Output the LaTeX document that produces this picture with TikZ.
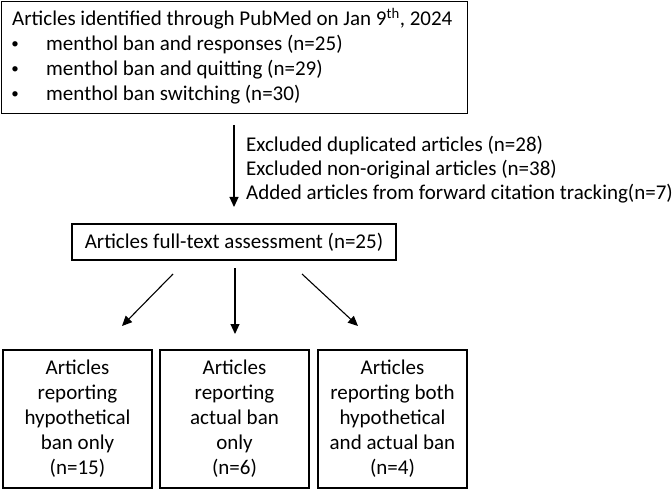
\documentclass[tikz,border=0pt]{standalone}
\usepackage{fontspec}
\setmainfont{Carlito}
\usetikzlibrary{arrows.meta}
\begin{document}
\begin{tikzpicture}[x=1pt,y=-1pt,
  every node/.style={inner sep=0pt, font=\fontsize{21}{25}\selectfont},
  box/.style={draw, line width=1.2pt},
  txt/.style={anchor=base west},
  bul/.style={anchor=base, font=\fontsize{15}{25}\selectfont},
  arr/.style={line width=1.1pt, -{Triangle[length=10pt,width=9pt]}}]
\useasboundingbox (0,0) rectangle (672,489);
% top box
\node[box, anchor=north west, minimum width=466pt, minimum height=112pt] (top) at (1,1) {};
\node[txt] (t1) at (12,26) {Articles identified through PubMed on Jan 9\textsuperscript{th}, 2024};
\node[bul] (b1) at (15,49) {•};
\node[txt] (l1) at (46,51) {menthol ban and responses (n=25)};
\node[bul] (b2) at (15,74) {•};
\node[txt] (l2) at (46,76) {menthol ban and quitting (n=29)};
\node[bul] (b3) at (15,99) {•};
\node[txt] (l3) at (46,101) {menthol ban switching (n=30)};
% middle arrow and notes
\coordinate (m1) at (234,125);
\coordinate (m2) at (234,207);
\draw[arr] (m1) -- (m2);
\node[txt] (e1) at (246,152) {Excluded duplicated articles (n=28)};
\node[txt] (e2) at (246,176) {Excluded non-original articles (n=38)};
\node[txt] (e3) at (246,200) {Added articles from forward citation tracking(n=7)};
% assessment box
\node[box, minimum width=324pt, minimum height=36pt] (full) at (234,242) {Articles full-text assessment (n=25)};
% branch arrows
\coordinate (s1) at (173,274);
\coordinate (f1) at (122,326);
\coordinate (s2) at (235,268);
\coordinate (f2) at (235,334);
\coordinate (s3) at (302,274);
\coordinate (f3) at (358,326);
\draw[arr] (s1) -- (f1);
\draw[arr] (s2) -- (f2);
\draw[arr] (s3) -- (f3);
% bottom boxes
\node[box, minimum width=149pt, minimum height=138pt, align=center] (ba) at (77.5,419)
  {Articles\\reporting\\hypothetical\\ban only\\(n=15)};
\node[box, minimum width=149pt, minimum height=138pt, align=center] (bb) at (234.5,419)
  {Articles\\reporting\\actual ban\\only\\(n=6)};
\node[box, minimum width=149pt, minimum height=138pt, align=center] (bc) at (392.5,419)
  {Articles\\reporting both\\hypothetical\\and actual ban\\(n=4)};
\end{tikzpicture}
\end{document}
